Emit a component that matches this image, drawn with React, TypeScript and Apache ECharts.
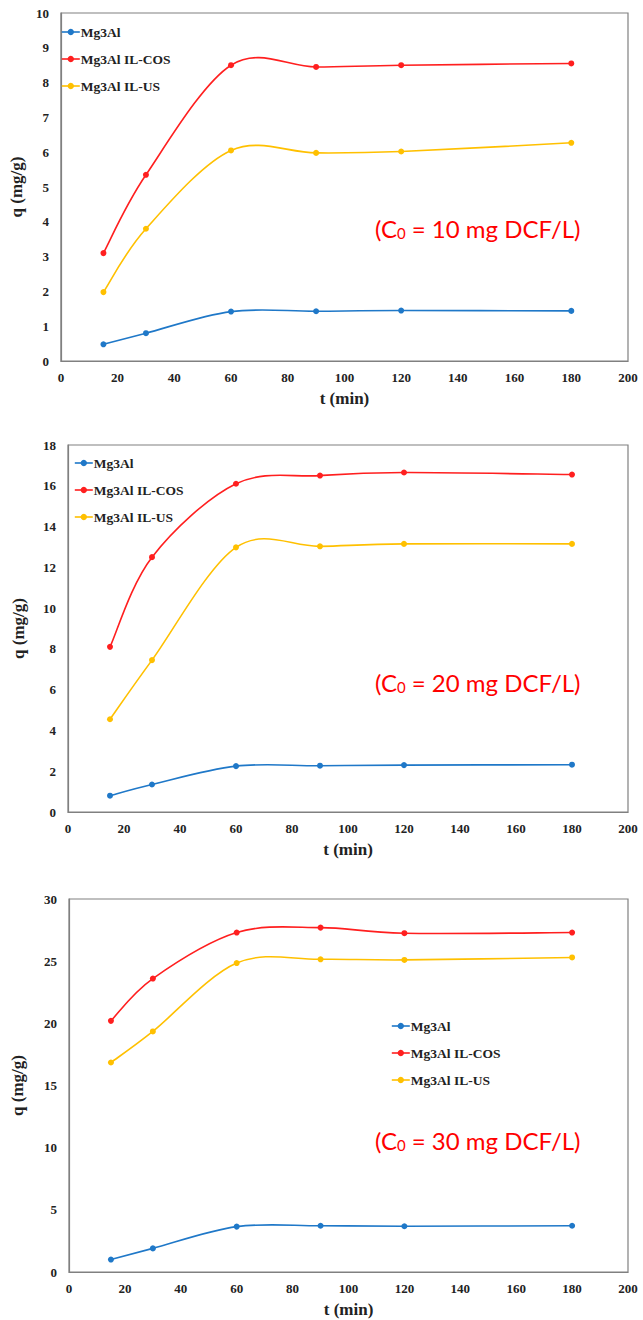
import React, { useEffect, useRef } from "react";
import * as echarts from "echarts";

const times = [15, 30, 60, 90, 120, 180];
const seriesNames = ["Mg3Al", "Mg3Al IL-COS", "Mg3Al IL-US"];
const colors = ["#1f78c8", "#ff1f1f", "#ffc000"];

// C0 = 10 mg DCF/L
const c10Mg3Al = [0.48, 0.8, 1.42, 1.43, 1.45, 1.44];
const c10COS = [3.1, 5.35, 8.5, 8.45, 8.5, 8.55];
const c10US = [1.98, 3.8, 6.05, 5.98, 6.02, 6.27];

// C0 = 20 mg DCF/L
const c20Mg3Al = [0.8, 1.35, 2.25, 2.27, 2.3, 2.32];
const c20COS = [8.1, 12.5, 16.1, 16.5, 16.65, 16.55];
const c20US = [4.55, 7.45, 12.98, 13.03, 13.15, 13.15];

// C0 = 30 mg DCF/L
const c30Mg3Al = [1.0, 1.9, 3.65, 3.72, 3.68, 3.72];
const c30COS = [20.2, 23.6, 27.3, 27.7, 27.25, 27.3];
const c30US = [16.85, 19.35, 24.85, 25.15, 25.1, 25.3];

const yMax = [10, 18, 30];
const yInterval = [1, 2, 5];
const annotations = ["10", "20", "30"];

const panels = [
  [c10Mg3Al, c10COS, c10US],
  [c20Mg3Al, c20COS, c20US],
  [c30Mg3Al, c30COS, c30US],
];

const grids = [
  { left: 55, top: 13, width: 573, height: 348 },
  { left: 68, top: 445, width: 560, height: 367 },
  { left: 69, top: 899, width: 559, height: 373 },
];
const legendPos = [
  { left: 56, top: 20 },
  { left: 69, top: 451 },
  { left: 386, top: 1014 },
];
const annotationPos = [
  { x: 375, y: 228 },
  { x: 375, y: 682 },
  { x: 375, y: 1140 },
];
const yNameGap = [33, 41, 43];

const serif = "'Liberation Serif', 'Times New Roman', serif";
const sans = "Lato, 'Open Sans', sans-serif";

function excelSmoothPath(pts: number[][]): string {
  let d = `M${pts[0][0]},${pts[0][1]}`;
  for (let i = 0; i < pts.length - 1; i++) {
    const p0 = pts[i - 1] || pts[i];
    const p1 = pts[i];
    const p2 = pts[i + 1];
    const p3 = pts[i + 2] || pts[i + 1];
    const c1x = p1[0] + (p2[0] - p0[0]) / 6;
    const c1y = p1[1] + (p2[1] - p0[1]) / 6;
    const c2x = p2[0] - (p3[0] - p1[0]) / 6;
    const c2y = p2[1] - (p3[1] - p1[1]) / 6;
    d += ` C${c1x},${c1y} ${c2x},${c2y} ${p2[0]},${p2[1]}`;
  }
  return d;
}

export default function App() {
  const ref = useRef<HTMLDivElement>(null);
  useEffect(() => {
    document.body.style.margin = "0";
    const chart = echarts.init(ref.current!, null, { renderer: "svg" });
    const axisLabel = {
      fontFamily: serif,
      fontWeight: "bold" as const,
      fontSize: 13,
      color: "#222",
    };
    const curveSeries = panels.flatMap((vals3, gi) =>
      vals3.map((vals, si) => ({
        type: "custom",
        name: `curve-${gi}-${si}`,
        xAxisIndex: gi,
        yAxisIndex: gi,
        silent: true,
        clip: false,
        z: 1,
        data: times.map((t, k) => [t, vals[k]]),
        encode: { x: 0, y: 1 },
        renderItem: (params: any, api: any) => {
          if (params.dataIndex !== 0) return undefined;
          const pts = times.map((t, k) => api.coord([t, vals[k]]));
          return {
            type: "path",
            shape: { pathData: excelSmoothPath(pts) },
            style: { stroke: colors[si], fill: "none", lineWidth: 1.6 },
          };
        },
      }))
    );
    const markerSeries = panels.flatMap((vals3, gi) =>
      vals3.map((vals, si) => ({
        type: "line",
        name: seriesNames[si],
        xAxisIndex: gi,
        yAxisIndex: gi,
        z: 3,
        data: times.map((t, k) => [t, vals[k]]),
        symbol: "circle",
        symbolSize: 6,
        lineStyle: { color: colors[si], width: 1.6, opacity: 0 },
        itemStyle: { color: colors[si] },
      }))
    );
    const option: any = {
      animation: false,
      backgroundColor: "#fff",
      grid: grids.map((g) => ({
        ...g,
        show: true,
        borderColor: "#808080",
        borderWidth: 1.2,
        containLabel: false,
      })),
      xAxis: grids.map((_, i) => ({
        type: "value",
        gridIndex: i,
        min: 0,
        max: 200,
        interval: 20,
        name: "t (min)",
        nameLocation: "middle",
        nameGap: 29,
        nameTextStyle: { fontFamily: serif, fontWeight: "bold", fontSize: 17, color: "#222" },
        axisLine: { show: true, lineStyle: { color: "#808080", width: 1.2 } },
        axisTick: { show: false },
        splitLine: { show: false },
        axisLabel: { ...axisLabel, margin: 10 },
      })),
      yAxis: grids.map((_, i) => ({
        type: "value",
        gridIndex: i,
        min: 0,
        max: yMax[i],
        interval: yInterval[i],
        name: "q (mg/g)",
        nameLocation: "middle",
        nameRotate: 90,
        nameGap: yNameGap[i],
        nameTextStyle: { fontFamily: serif, fontWeight: "bold", fontSize: 17, color: "#222" },
        axisLine: { show: true, lineStyle: { color: "#808080", width: 1.2 } },
        axisTick: { show: false },
        splitLine: { show: false },
        axisLabel: { ...axisLabel, margin: 12 },
      })),
      legend: legendPos.map((p) => ({
        ...p,
        orient: "vertical",
        data: seriesNames,
        itemWidth: 18,
        itemHeight: 8,
        itemGap: 13,
        lineStyle: { opacity: 1, width: 1.6 },
        textStyle: { fontFamily: serif, fontWeight: "bold", fontSize: 13.5, color: "#222", padding: [0, 0, 0, -4] },
        selectedMode: false,
      })),
      series: [...curveSeries, ...markerSeries],
      graphic: annotationPos.map((pos, i) => ({
        type: "text",
        x: pos.x,
        y: pos.y,
        style: {
          text: `{a|(C}{b|0}{a| = ${annotations[i]} mg DCF/L)}`,
          verticalAlign: "middle",
          rich: {
            a: { fontFamily: sans, fontSize: 24, fill: "#ff0000" },
            b: { fontFamily: sans, fontSize: 15, fill: "#ff0000", padding: [10, 0, 0, 0] },
          },
        },
      })),
    };
    chart.setOption(option);
    return () => chart.dispose();
  }, []);
  return <div ref={ref} style={{ width: 643, height: 1320 }} />;
}
